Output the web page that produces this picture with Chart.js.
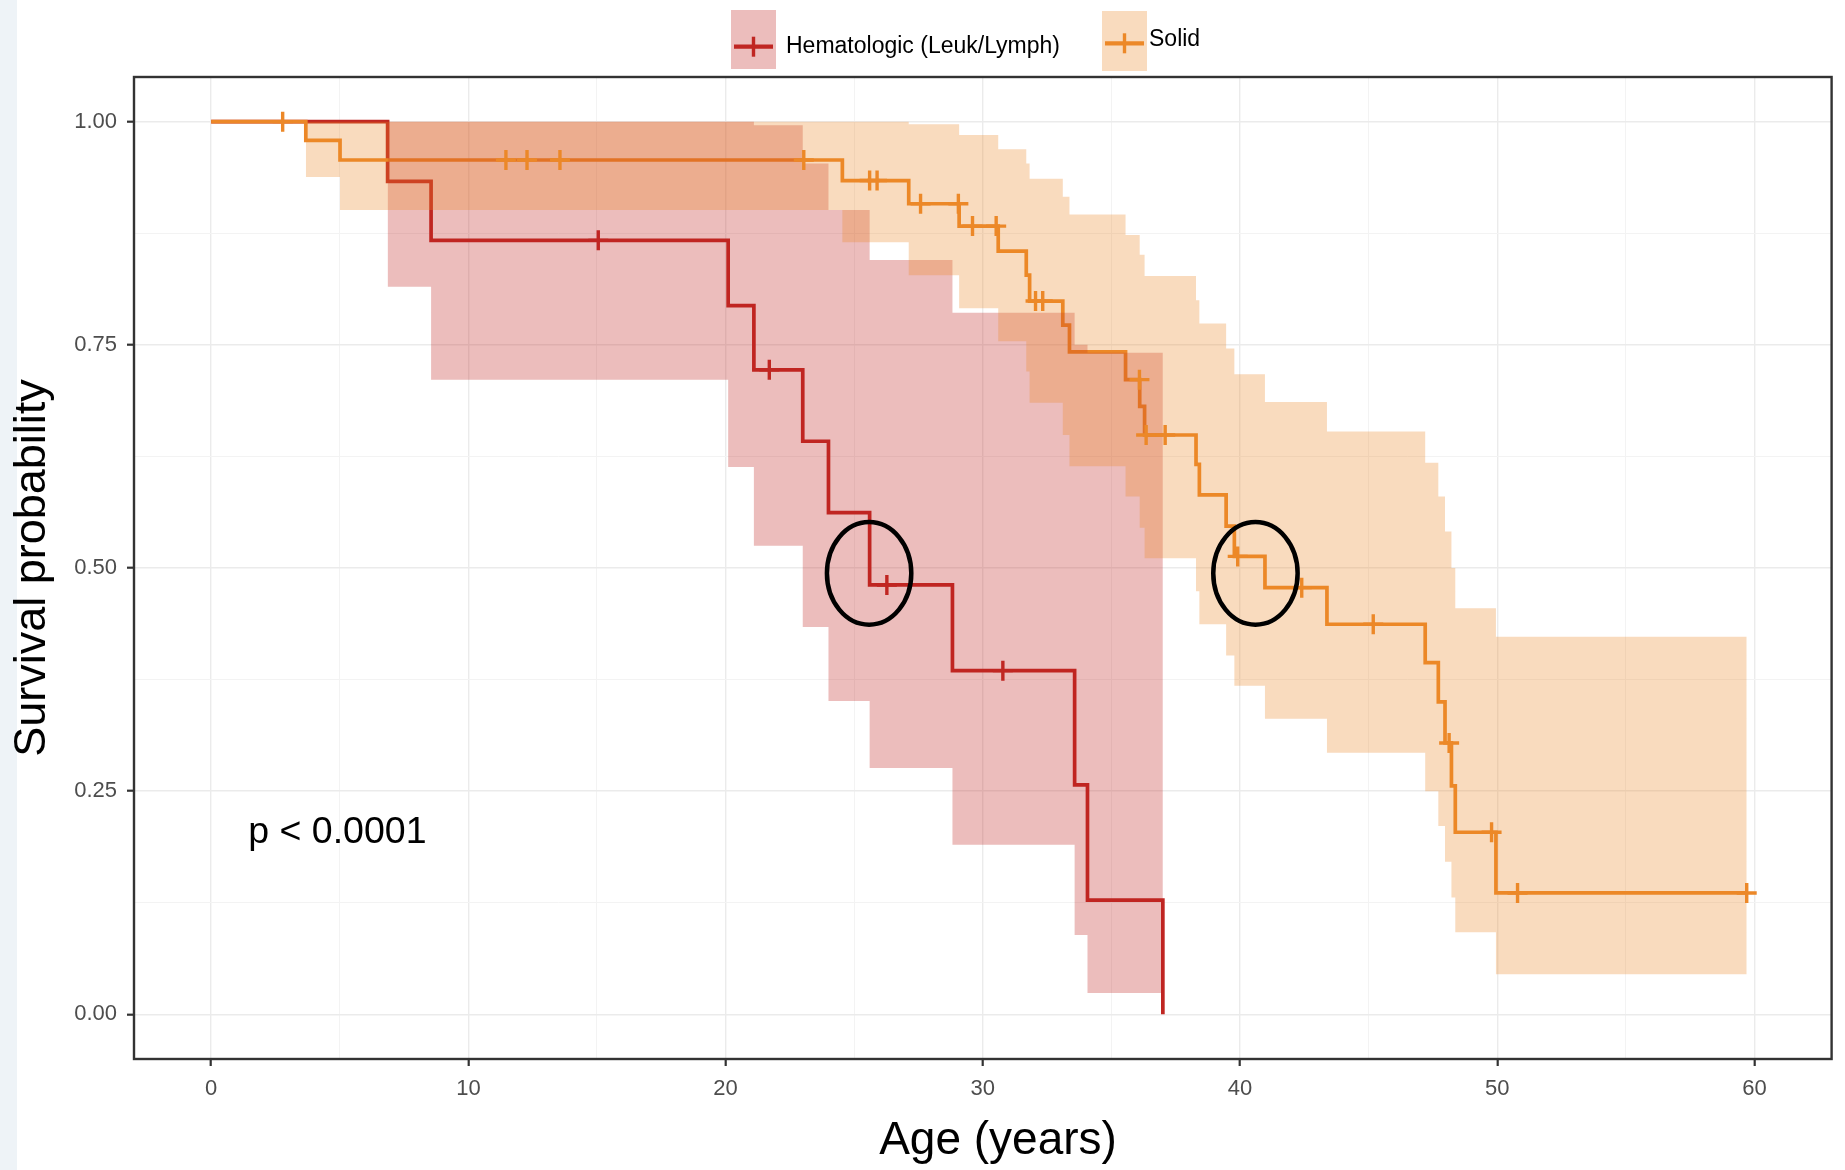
<!DOCTYPE html>
<html>
<head>
<meta charset="utf-8">
<title>Survival probability by age</title>
<script src="https://cdn.jsdelivr.net/npm/chart.js@4.4.1/dist/chart.umd.min.js"></script>
<style>
  html, body { margin: 0; padding: 0; background: #fff; }
  #wrap { position: relative; width: 1845px; height: 1170px; }
</style>
</head>
<body>
<div id="wrap"><canvas id="km" width="1845" height="1170"></canvas></div>
<script>
// Hematologic (Leuk/Lymph): Kaplan-Meier steps
const hemaTime = [0, 6.86, 8.55, 20.1, 21.1, 23.0, 24.0, 25.6, 28.82, 33.57, 34.07, 37.0];
const hemaSurv = [1, 0.933, 0.867, 0.794, 0.722, 0.642, 0.562, 0.481, 0.385, 0.257, 0.128, 0];
// its confidence band, from the first event to the last time
const hemaBandTime = [6.86, 8.55, 20.1, 21.1, 23.0, 24.0, 25.6, 28.82, 33.57, 34.07, 37.0];
const hemaUpper = [1, 1, 1, 0.996, 0.953, 0.901, 0.845, 0.786, 0.750, 0.741, 0.741];
const hemaLower = [0.815, 0.711, 0.613, 0.525, 0.434, 0.351, 0.276, 0.190, 0.089, 0.024, 0.024];
// censored observations (the "+" marks)
const hemaCensor = [15.05, 21.7, 26.27, 30.78];

// Solid tumours
const solidTime = [0, 3.68, 5.01, 24.54, 27.12, 29.08, 30.6, 31.69, 31.82, 33.11, 33.37, 35.55, 36.1,
                   36.29, 38.29, 38.42, 39.46, 39.78, 40.97, 43.38, 47.2, 47.71, 47.97, 48.22, 48.37, 49.95, 59.7];
const solidSurv = [1, 0.979, 0.957, 0.934, 0.908, 0.883, 0.855, 0.828, 0.799, 0.772, 0.742, 0.711, 0.681,
                   0.649, 0.616, 0.582, 0.547, 0.513, 0.478, 0.437, 0.394, 0.350, 0.304, 0.256, 0.204, 0.136, 0.136];
const solidBandTime = [3.68, 5.01, 24.54, 27.12, 29.08, 30.6, 31.69, 31.82, 33.11, 33.37, 35.55, 36.1,
                       36.29, 38.29, 38.42, 39.46, 39.78, 40.97, 43.38, 47.2, 47.71, 47.97, 48.22, 48.37, 49.95, 59.7];
const solidUpper = [1, 1, 1, 0.997, 0.985, 0.969, 0.953, 0.936, 0.916, 0.896, 0.873, 0.851,
                    0.827, 0.800, 0.774, 0.746, 0.717, 0.686, 0.653, 0.618, 0.580, 0.541, 0.500, 0.455, 0.423, 0.423];
const solidLower = [0.938, 0.901, 0.865, 0.828, 0.791, 0.754, 0.720, 0.685, 0.649, 0.614, 0.580, 0.545,
                    0.511, 0.474, 0.437, 0.402, 0.368, 0.331, 0.293, 0.250, 0.211, 0.171, 0.131, 0.092, 0.045, 0.045];
const solidCensor = [2.78, 11.46, 12.28, 13.56, 23.04, 25.6, 25.89, 27.58, 29.05, 29.6, 30.52, 32.05, 32.33,
                     36.09, 36.35, 37.09, 39.91, 42.4, 45.18, 48.13, 49.78, 50.79, 59.7];

// Axis ticks: grid every 5 years / 0.125, labels on the major ones
const xGrid = [0, 5, 10, 15, 20, 25, 30, 35, 40, 45, 50, 55, 60];
const xLabels = [0, 10, 20, 30, 40, 50, 60];
const yGrid = [0, 0.125, 0.25, 0.375, 0.5, 0.625, 0.75, 0.875, 1];
const yLabels = [0, 0.25, 0.5, 0.75, 1];

// The two hand-drawn circles round the median crossings
const circleAge = [25.58, 40.6];
const circleSurv = [0.494, 0.494];

const seriesNames = ['Hematologic (Leuk/Lymph)', 'Solid'];
const pText = 'p < 0.0001';
const xTitle = 'Age (years)';

// Colours
const hemaColor = 'rgb(192,38,34)';
const hemaFill = 'rgba(192,38,34,0.3)';
const solidColor = 'rgb(236,136,40)';
const solidFill = 'rgba(236,136,40,0.3)';
const fontFamily = '"Liberation Sans", Arial, Helvetica, sans-serif';

Chart.defaults.font.family = fontFamily;

// Turn two arrays into {x, y} points
function pts(ts, vs) {
    return ts.map((t, i) => ({ x: t, y: vs[i] }));
}

// Survival value of a step curve at time t (used to place the censor marks)
function survAt(ts, vs, t) {
    let v = vs[0];
    for (let i = 0; i < ts.length; i++) {
        if (ts[i] <= t) v = vs[i];
    }
    return v;
}

function censorPts(cs, ts, vs) {
    return cs.map(t => ({ x: t, y: survAt(ts, vs, t) }));
}

function isIn(list, v) {
    return list.some(l => Math.abs(l - v) < 1e-9);
}

// Extra drawing: left strip, panel border, circles, p value, x title and the legend
const extras = {
    id: 'extras',
    beforeDraw(chart) {
        const ctx = chart.ctx;
        ctx.save();
        ctx.fillStyle = '#ffffff';
        ctx.fillRect(0, 0, chart.width, chart.height);
        ctx.fillStyle = '#EEF3F7';
        ctx.fillRect(0, 0, 17, chart.height);
        ctx.restore();
    },
    afterDatasetsDraw(chart) {
        const ctx = chart.ctx;
        const a = chart.chartArea;
        const x = chart.scales.x;
        const y = chart.scales.y;
        ctx.save();

        // panel border
        ctx.strokeStyle = '#333333';
        ctx.lineWidth = 2.4;
        ctx.strokeRect(a.left, a.top, a.right - a.left, a.bottom - a.top);

        // circles
        ctx.strokeStyle = '#000000';
        ctx.lineWidth = 4.5;
        circleAge.forEach((age, i) => {
            const cx = x.getPixelForValue(age);
            const cy = y.getPixelForValue(circleSurv[i]);
            const rx = x.getPixelForValue(age + 1.64) - cx;
            const ry = cy - y.getPixelForValue(circleSurv[i] + 0.0575);
            ctx.beginPath();
            ctx.ellipse(cx, cy, rx, ry, 0, 0, 2 * Math.PI);
            ctx.stroke();
        });

        // p value
        ctx.fillStyle = '#000000';
        ctx.font = '37.5px ' + fontFamily;
        ctx.textAlign = 'left';
        ctx.textBaseline = 'middle';
        ctx.fillText(pText, x.getPixelForValue(1.44), y.getPixelForValue(0.203));
        ctx.restore();
    },
    afterDraw(chart) {
        const ctx = chart.ctx;
        ctx.save();

        // x axis title (sits a little right of the panel centre in the original)
        ctx.fillStyle = '#000000';
        ctx.font = '46px ' + fontFamily;
        ctx.textAlign = 'center';
        ctx.textBaseline = 'middle';
        ctx.fillText(xTitle, 998, 1141);

        ctx.font = '23px ' + fontFamily;
        ctx.textAlign = 'left';

        // legend keys: filled box with the line and a cross
        const keys = [
            { left: 731, top: 10, h: 59, lineY: 46.7, fill: hemaFill, color: hemaColor, textX: 786, textY: 46.7 },
            { left: 1102, top: 11, h: 60, lineY: 43.3, fill: solidFill, color: solidColor, textX: 1149, textY: 40 }
        ];
        keys.forEach((k, i) => {
            ctx.fillStyle = k.fill;
            ctx.fillRect(k.left, k.top, 45, k.h);
            ctx.strokeStyle = k.color;
            ctx.lineWidth = 4.2;
            ctx.beginPath();
            ctx.moveTo(k.left + 3, k.lineY);
            ctx.lineTo(k.left + 42, k.lineY);
            ctx.stroke();
            ctx.lineWidth = 3.4;
            ctx.beginPath();
            ctx.moveTo(k.left + 22.5, k.lineY - 10);
            ctx.lineTo(k.left + 22.5, k.lineY + 10);
            ctx.stroke();
            ctx.fillStyle = '#000000';
            ctx.fillText(seriesNames[i], k.textX, k.textY);
        });
        ctx.restore();
    }
};

const gridColor = c => (c.tick && (isIn(xLabels, c.tick.value) || isIn(yLabels, c.tick.value))) ? '#EBEBEB' : '#F3F3F3';

let kmChart = new Chart(document.getElementById('km'), {
    type: 'line',
    data: {
        datasets: [
            // step curves (drawn first, underneath the bands)
            { label: seriesNames[0], data: pts(hemaTime, hemaSurv), stepped: true,
              borderColor: hemaColor, borderWidth: 3.7, pointRadius: 0, fill: false, order: 5 },
            { label: seriesNames[1], data: pts(solidTime, solidSurv), stepped: true,
              borderColor: solidColor, borderWidth: 3.7, pointRadius: 0, fill: false, order: 4 },

            // confidence bands
            { label: 'hema upper', data: pts(hemaBandTime, hemaUpper), stepped: true,
              borderColor: 'rgba(0,0,0,0)', borderWidth: 0, pointRadius: 0,
              backgroundColor: hemaFill, fill: '+1', order: 3 },
            { label: 'hema lower', data: pts(hemaBandTime, hemaLower), stepped: true,
              borderColor: 'rgba(0,0,0,0)', borderWidth: 0, pointRadius: 0, fill: false, order: 3 },
            { label: 'solid upper', data: pts(solidBandTime, solidUpper), stepped: true,
              borderColor: 'rgba(0,0,0,0)', borderWidth: 0, pointRadius: 0,
              backgroundColor: solidFill, fill: '+1', order: 2 },
            { label: 'solid lower', data: pts(solidBandTime, solidLower), stepped: true,
              borderColor: 'rgba(0,0,0,0)', borderWidth: 0, pointRadius: 0, fill: false, order: 2 },

            // censor marks on top
            { type: 'scatter', label: 'hema censored', data: censorPts(hemaCensor, hemaTime, hemaSurv),
              pointStyle: 'cross', pointRadius: 10, pointBorderWidth: 3.4, pointBorderColor: hemaColor,
              showLine: false, order: 1 },
            { type: 'scatter', label: 'solid censored', data: censorPts(solidCensor, solidTime, solidSurv),
              pointStyle: 'cross', pointRadius: 10, pointBorderWidth: 3.4, pointBorderColor: solidColor,
              showLine: false, order: 0 }
        ]
    },
    options: {
        responsive: false,
        animation: false,
        events: [],
        layout: { padding: { top: 77, right: 12, bottom: 0, left: 0 } },
        plugins: {
            legend: { display: false },
            tooltip: { enabled: false }
        },
        scales: {
            x: {
                type: 'linear',
                min: -3,
                max: 63,
                afterBuildTicks: s => { s.ticks = xGrid.map(v => ({ value: v })); },
                afterFit: s => { s.height = 111; },
                ticks: {
                    autoSkip: false,
                    maxRotation: 0,
                    padding: 10,
                    color: '#4D4D4D',
                    font: { size: 22 },
                    callback: v => isIn(xLabels, v) ? String(v) : ''
                },
                grid: {
                    color: gridColor,
                    lineWidth: c => (c.tick && isIn(xLabels, c.tick.value)) ? 1.4 : 1.0,
                    tickLength: 7,
                    tickWidth: 2.2,
                    tickColor: c => (c.tick && isIn(xLabels, c.tick.value)) ? '#333333' : 'rgba(0,0,0,0)'
                },
                border: { display: false },
                title: { display: false }
            },
            y: {
                type: 'linear',
                min: -0.05,
                max: 1.05,
                afterBuildTicks: s => { s.ticks = yGrid.map(v => ({ value: v })); },
                afterFit: s => { s.width = 134; },
                ticks: {
                    autoSkip: false,
                    padding: 10,
                    color: '#4D4D4D',
                    font: { size: 22 },
                    callback: v => isIn(yLabels, v) ? v.toFixed(2) : ''
                },
                grid: {
                    color: gridColor,
                    lineWidth: c => (c.tick && isIn(yLabels, c.tick.value)) ? 1.4 : 1.0,
                    tickLength: 7,
                    tickWidth: 2.2,
                    tickColor: c => (c.tick && isIn(yLabels, c.tick.value)) ? '#333333' : 'rgba(0,0,0,0)'
                },
                border: { display: false },
                title: {
                    display: true,
                    text: 'Survival probability',
                    color: '#000000',
                    font: { size: 45 },
                    padding: { top: 6, bottom: 0 }
                }
            }
        }
    },
    plugins: [extras]
});
</script>
</body>
</html>
